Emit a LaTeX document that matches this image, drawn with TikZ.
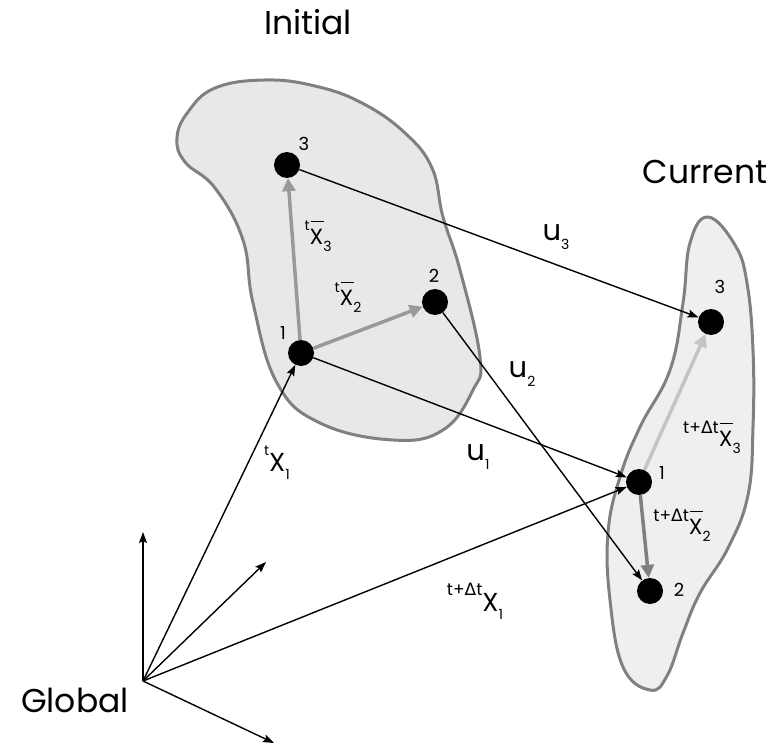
\documentclass[tikz,border=0pt]{standalone}
\usepackage{fontspec}
\setmainfont{Poppins}
\newfontfamily\dejavu{DejaVu Sans}
\usetikzlibrary{arrows.meta, positioning}
\definecolor{edge}{HTML}{808080}
\definecolor{washi}{HTML}{E8E8E8}
\definecolor{washc}{HTML}{EFEFEF}
\definecolor{relmid}{HTML}{999999}
\definecolor{rellight}{HTML}{C4C4C4}
\definecolor{reldark}{HTML}{7F7F7F}
\newcommand\hi[2][14]{\raisebox{0.62em}{\fontsize{#1}{#1}\selectfont #2}}
\newcommand\lo[2][14]{\raisebox{-0.3em}{\fontsize{#1}{#1}\selectfont #2}}
\newcommand\barX{\rlap{\hspace{0.05em}\rule[1.05em]{0.6em}{0.8pt}}X}
\newcommand\dt{t+{\dejavu Δ}t}
\tikzset{
  font=\fontsize{26}{30}\selectfont,
  >={Stealth[length=11pt, width=8pt, inset=2pt]},
  %
  mass/.style={circle, fill=black, minimum size=26pt, inner sep=0pt},
  blob/.style={draw=edge, line width=3pt},
  %
  disp/.style={draw=black, line width=1.4pt, ->},
  rel/.style={line width=3.5pt, -{Triangle[length=13pt, width=13pt]}},
  %
  title/.style={font=\fontsize{33}{36}\selectfont, inner sep=0pt},
  sym/.style={font=\fontsize{26}{30}\selectfont, inner sep=0pt},
  symu/.style={font=\fontsize{29}{32}\selectfont, inner sep=0pt},
  symb/.style={font=\fontsize{22}{26}\selectfont, inner sep=0pt},
  num/.style={font=\fontsize{18}{20}\selectfont, inner sep=0pt},
}

\begin{document}
\begin{tikzpicture}[x=1pt, y=-1pt]

  \useasboundingbox (0,0) rectangle (774,749);

  % bodies
  \draw[blob, fill=washi] plot[smooth cycle, tension=0.7] coordinates {
    (177,138) (188,112) (215,88) (265,80) (315,86) (362,103) (405,133)
    (432,168) (443,217) (460,270) (480,357) (473,390) (443,430) (393,440)
    (320,423) (277,383) (253,303) (243,240) (215,188) (185,162)};
  \draw[blob, fill=washc] plot[smooth cycle, tension=0.7] coordinates {
    (708,217) (735,245) (747,283) (753,350) (753,427) (748,495) (728,548)
    (700,593) (683,633) (667,676) (650,690) (623,667) (610,600) (608,533)
    (620,477) (640,427) (670,370) (683,303) (690,243)};

  \node[title] (tinit) at (308,22)  {Initial};
  \node[title] (tcur)  at (705,172) {Current};
  \node[title, anchor=east] (tglob) at (129,700) {Global};

  % material points
  \node[mass] (i1) at (301,353) {};
  \node[mass] (i2) at (435,302) {};
  \node[mass] (i3) at (287,165) {};
  \node[mass] (c1) at (639,482) {};
  \node[mass] (c2) at (650,591) {};
  \node[mass] (c3) at (711,322) {};

  \node[num] (ni1) at (283,333) {1};
  \node[num] (ni2) at (434,276) {2};
  \node[num] (ni3) at (304,144) {3};
  \node[num] (nc1) at (662,473) {1};
  \node[num] (nc2) at (679,590) {2};
  \node[num] (nc3) at (720,287) {3};

  % global frame
  \coordinate (o) at (143,681);
  \coordinate (ax) at (143,532);
  \coordinate (ay) at (266,562);
  \coordinate (az) at (274,743);
  \draw[disp] (o) -- (ax);
  \draw[disp] (o) -- (ay);
  \draw[disp] (o) -- (az);

  % positions and displacements
  \draw[disp] (o) -- (i1);
  \draw[disp] (o) -- (c1);
  \draw[disp] (i1) -- (c1);
  \draw[disp] (i2) -- (c2);
  \draw[disp] (i3) -- (c3);

  % relative vectors
  \draw[rel, draw=relmid, color=relmid] (i1) -- (i3);
  \draw[rel, draw=relmid, color=relmid] (i1) -- (i2);
  \draw[rel, draw=rellight, color=rellight] (c1) -- (c3);
  \draw[rel, draw=reldark, color=reldark] (c1) -- (c2);

  \node[symu] (lu1) at (478,457) {u\lo{1}};
  \node[symu] (lu2) at (522,374) {u\lo{2}};
  \node[symu] (lu3) at (556,237) {u\lo{3}};
  \node[sym] (lx0) at (277,463) {\hi{t}X\lo{1}};
  \node[sym] (lx1) at (475,601) {\hi[17]{\dt}X\lo{1}};
  \node[symb] (lr3) at (318,236) {\hi{t}\barX\lo{3}};
  \node[symb] (lr2) at (348,297) {\hi{t}\barX\lo{2}};
  \node[symb] (lq3) at (712,437) {\hi[17]{\dt}\barX\lo{3}};
  \node[symb] (lq2) at (682,525) {\hi[17]{\dt}\barX\lo{2}};

\end{tikzpicture}
\end{document}
